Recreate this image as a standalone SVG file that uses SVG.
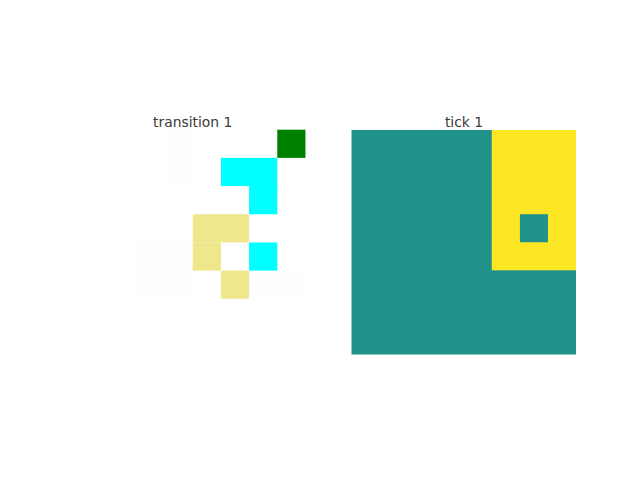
<svg xmlns="http://www.w3.org/2000/svg" width="640" height="480" viewBox="0 0 640 480">
<style>
.t{font-family:"DejaVu Sans",sans-serif;font-size:13.9px;fill:#3a3a3a;text-anchor:middle}
.w{fill:#fefefe}
.c{fill:#00ffff}
.k{fill:#f0e68c}
.g{fill:#008000}
.teal{fill:#21918c}
.y{fill:#fde725}
</style>
<rect width="640" height="480" fill="#ffffff"/>
<g id="transition-panel">
<text class="t" x="192.7" y="126.5">transition 1</text>
<rect x="80" y="129.7" width="225.45" height="225.45" fill="#ffffff"/>
<rect class="w" x="164.55" y="129.7" width="28.18" height="56.36"/>
<rect class="w" x="136.36" y="242.43" width="56.37" height="56.36"/>
<rect class="w" x="249.09" y="270.61" width="56.36" height="28.18"/>
<rect class="g" x="277.27" y="129.7" width="28.18" height="28.18"/>
<rect class="c" x="220.91" y="157.88" width="56.36" height="28.18"/>
<rect class="c" x="249.09" y="186.06" width="28.18" height="28.19"/>
<rect class="k" x="192.73" y="214.25" width="56.36" height="28.18"/>
<rect class="k" x="192.73" y="242.43" width="28.18" height="28.18"/>
<rect class="c" x="249.09" y="242.43" width="28.18" height="28.18"/>
<rect class="k" x="220.91" y="270.61" width="28.18" height="28.18"/>
</g>
<g id="tick-panel">
<text class="t" x="464" y="126.5">tick 1</text>
<rect class="teal" x="351.5" y="130" width="224.5" height="224.5"/>
<rect class="y" x="491.8" y="130" width="84.2" height="140.3"/>
<rect class="teal" x="519.9" y="214.2" width="28.06" height="28.06"/>
</g>
<g id="connectors"/>
</svg>
